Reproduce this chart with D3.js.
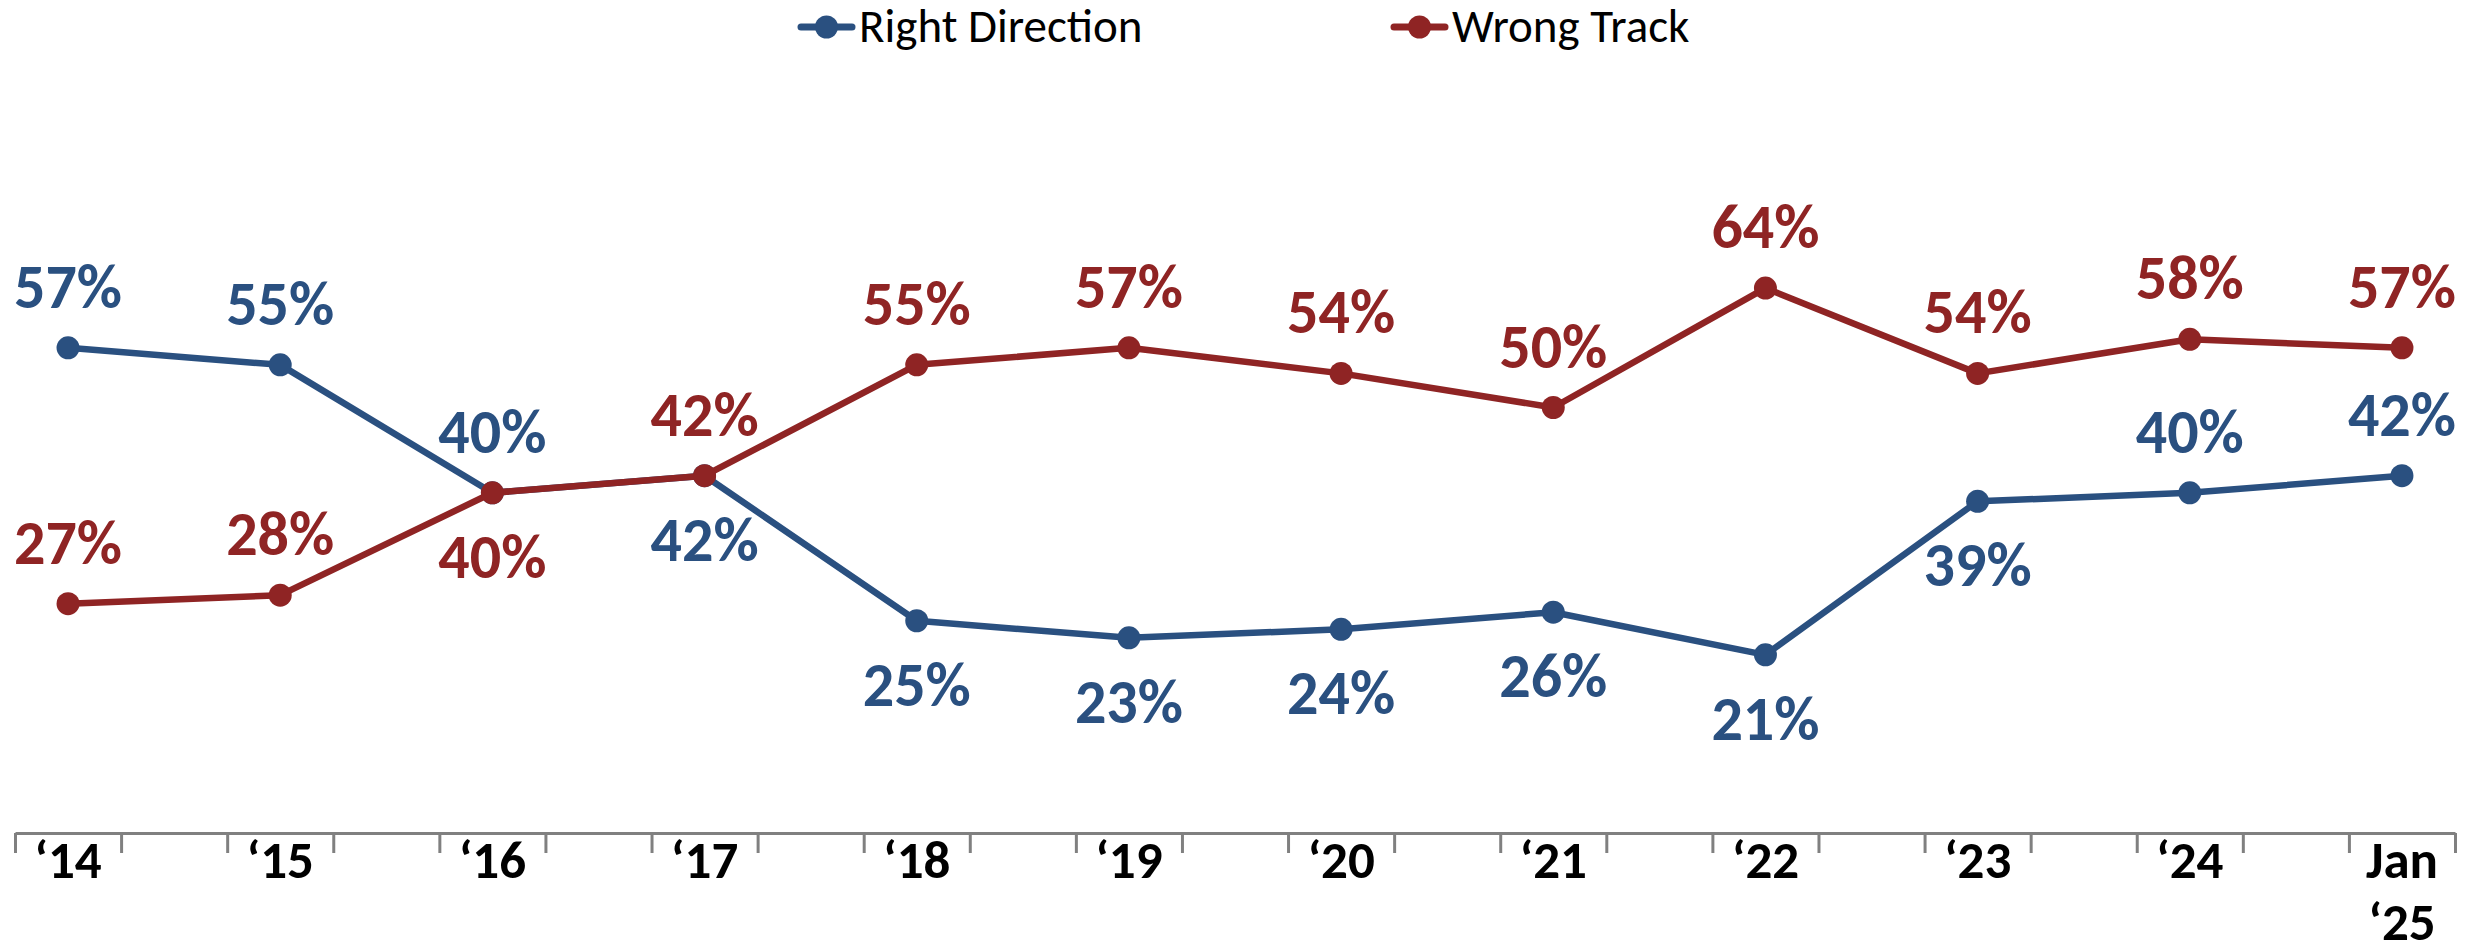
<!DOCTYPE html>
<html>
<head>
<meta charset="utf-8">
<script src="https://cdn.jsdelivr.net/npm/d3@7"></script>
<style>
  html, body { margin: 0; padding: 0; background: #fff; }
  svg { display: block; }
  .lbl { font-family: Carlito, Calibri, 'Open Sans', sans-serif; font-weight: 700; }
  .legend text { font-family: Carlito, Calibri, 'Open Sans', sans-serif; }
</style>
</head>
<body>
<svg id="chart" width="2478" height="945"></svg>
<script>
const years = ['‘14', '‘15', '‘16', '‘17', '‘18', '‘19', '‘20', '‘21', '‘22', '‘23', '‘24', 'Jan ‘25'];
const rightDirection = [57, 55, 40, 42, 25, 23, 24, 26, 21, 39, 40, 42];
const wrongTrack = [27, 28, 40, 42, 55, 57, 54, 50, 64, 54, 58, 57];
// where each data label sits relative to its point
const rightSide = ['up', 'up', 'up', 'down', 'down', 'down', 'down', 'down', 'down', 'down', 'up', 'up'];
const wrongSide = ['up', 'up', 'down', 'up', 'up', 'up', 'up', 'up', 'up', 'up', 'up', 'up'];

const series = [
  { name: 'Right Direction', values: rightDirection, side: rightSide, color: '#2A5080' },
  { name: 'Wrong Track', values: wrongTrack, side: wrongSide, color: '#8F2424' }
];

const svg = d3.select('#chart');

const x = d3.scaleLinear().domain([-0.25, 11.25]).range([15, 2455]);
const y = d3.scaleLinear().domain([0, 80]).range([834, 834 - 80 * 8.53]);

// x axis: ticks on every half-category boundary, no tick text
const tickVals = d3.range(24).map((k) => -0.25 + k * 0.5);
const axis = svg.append('g')
  .attr('transform', `translate(0,${y(0) - 1})`)
  .call(d3.axisBottom(x).tickValues(tickVals).tickSize(20).tickSizeOuter(0).tickFormat(''));
axis.select('.domain').attr('stroke', '#808080').attr('stroke-width', 3);
axis.selectAll('.tick line').attr('stroke', '#808080').attr('stroke-width', 3);

// category labels
const catLabels = svg.append('g').attr('class', 'lbl');
years.forEach((yr, i) => {
  const t = catLabels.append('text')
    .attr('x', x(i))
    .attr('y', 878)
    .attr('text-anchor', 'middle')
    .attr('font-size', 53)
    .attr('fill', '#000');
  yr.split(' ').forEach((part, j) => {
    t.append('tspan').attr('x', x(i)).attr('dy', j === 0 ? 0 : 62).text(part);
  });
});

const line = d3.line().x((d, i) => x(i)).y((d) => y(d));

series.forEach((s) => {
  const g = svg.append('g');
  g.append('path')
    .datum(s.values)
    .attr('fill', 'none')
    .attr('stroke', s.color)
    .attr('stroke-width', 6.5)
    .attr('stroke-linejoin', 'round')
    .attr('d', line);
  g.selectAll('circle')
    .data(s.values)
    .enter()
    .append('circle')
    .attr('cx', (d, i) => x(i))
    .attr('cy', (d) => y(d))
    .attr('r', 11.5)
    .attr('fill', s.color);
});

// data labels on top
series.forEach((s) => {
  svg.append('g').attr('class', 'lbl')
    .selectAll('text')
    .data(s.values)
    .enter()
    .append('text')
    .attr('x', (d, i) => x(i))
    .attr('y', (d, i) => (s.side[i] === 'up' ? y(d) - 40 : y(d) + 85))
    .attr('text-anchor', 'middle')
    .attr('font-size', 62)
    .attr('fill', s.color)
    .text((d) => d + '%');
});

// legend
const legendX = [798, 1391];
const legend = svg.append('g').attr('class', 'legend');
series.forEach((s, i) => {
  const lg = legend.append('g').attr('transform', `translate(${legendX[i]},27)`);
  lg.append('line')
    .attr('x1', 3).attr('x2', 54).attr('y1', 0).attr('y2', 0)
    .attr('stroke', s.color).attr('stroke-width', 7).attr('stroke-linecap', 'round');
  lg.append('circle').attr('cx', 28.5).attr('cy', 0).attr('r', 11.5).attr('fill', s.color);
  lg.append('text')
    .attr('x', 61)
    .attr('y', 15)
    .attr('font-size', 47)
    .attr('fill', '#000')
    .text(s.name);
});
</script>
</body>
</html>
